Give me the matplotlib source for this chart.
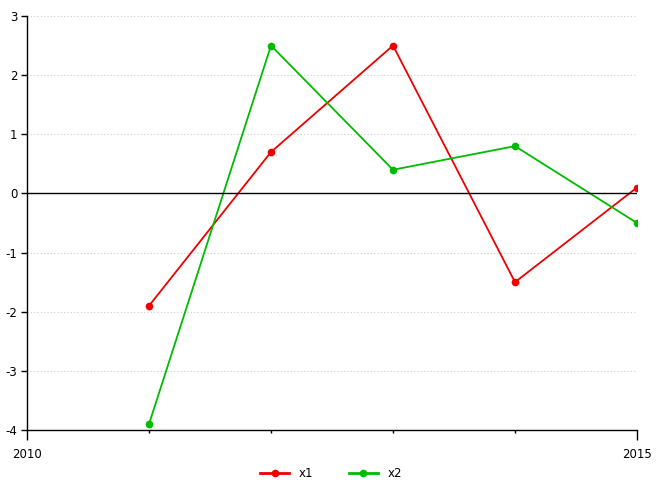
import matplotlib.pyplot as plt
from matplotlib.lines import Line2D

years = [2011, 2012, 2013, 2014, 2015]
x1 = [-1.9, 0.7, 2.5, -1.5, 0.1]
x2 = [-3.9, 2.5, 0.4, 0.8, -0.5]
series_names = ["x1", "x2"]
y_ticks = [-4, -3, -2, -1, 0, 1, 2, 3]

plt.rcParams['font.family'] = ['DejaVu Sans']
plt.rcParams['axes.unicode_minus'] = False

fig = plt.figure(figsize=(6.62, 4.91), dpi=100)
ax = fig.add_axes([27 / 662, 1 - 430 / 491, (637 - 27) / 662, (430 - 16) / 491])

red = '#ee0000'
green = '#00bb00'
ax.plot(years, x1, color=red, lw=1.3, marker='o', ms=4.5, label=series_names[0])
ax.plot(years, x2, color=green, lw=1.3, marker='o', ms=4.5, label=series_names[1])

ax.axhline(0, color='black', lw=1)
ax.set_xlim(2010, 2015)
ax.set_ylim(-4, 3)
ax.set_yticks(y_ticks)
ax.set_xticks([2010, 2015])
ax.set_xticks(years[:-1], minor=True)
ax.tick_params(axis='x', which='major', length=7, width=1, labelsize=8.5, pad=6)
ax.tick_params(axis='x', which='minor', length=2, width=1)
ax.tick_params(axis='y', length=4, width=1, labelsize=8.5, pad=3)

for y in y_ticks[1:]:
    if y != 0:
        ax.axhline(y, color='#cccccc', lw=0.8, ls=(0, (1, 2)), zorder=0)
ax.axvline(2015, color='#cccccc', lw=0.8, ls=(0, (1, 2)), zorder=0)

for s in ['top', 'right']:
    ax.spines[s].set_visible(False)
ax.spines['left'].set_linewidth(1)
ax.spines['bottom'].set_linewidth(1)

handles = [Line2D([], [], color=red, lw=2, marker='o', ms=4.5),
           Line2D([], [], color=green, lw=2, marker='o', ms=4.5)]
fig.legend(handles, series_names, loc='lower center', ncol=2, frameon=False,
           fontsize=8.5, bbox_to_anchor=(0.5, 0.0), handlelength=2.5, columnspacing=3)

fig.savefig("out.png", dpi=100)
